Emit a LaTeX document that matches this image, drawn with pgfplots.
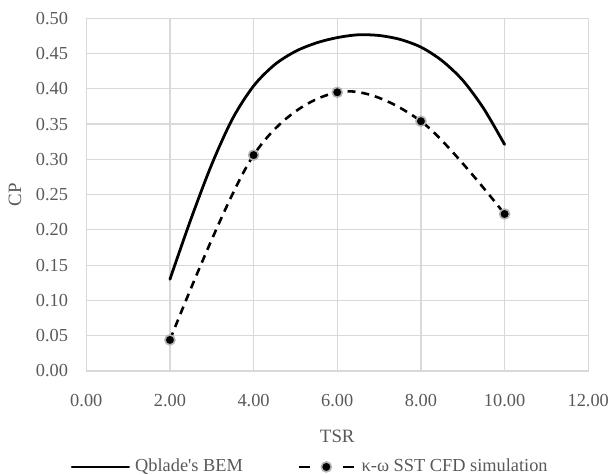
\documentclass[border=0pt]{standalone}
\usepackage{fontspec}
\setmainfont{Liberation Serif}
\usepackage{pgfplots}
\pgfplotsset{compat=1.18}
\definecolor{gridgray}{HTML}{D9D9D9}
\definecolor{txtgray}{HTML}{595959}
\pgfplotsset{
  bem legend/.style={legend image code/.code={%
    \draw[##1] (0bp,0bp) -- (57bp,0bp); \path (62bp,0bp);}},
  cfd legend/.style={legend image code/.code={%
    \draw[##1, solid] (0bp,0bp) -- (11bp,0bp);
    \draw[##1, solid] (44bp,0bp) -- (55bp,0bp);
    \draw[##1] plot coordinates {(27.5bp,0bp)};
    \path (61.7bp,0bp);}},
}
\begin{document}
\fontsize{18.5}{22}\selectfont
\begin{tikzpicture}
\begin{axis}[
  at={(0,0)}, anchor=south west,
  scale only axis, width=504.3bp, height=354.4bp,
  xmin=0, xmax=12, ymin=0, ymax=0.5,
  xtick={0,2,4,6,8,10,12},
  ytick={0,0.05,0.1,0.15,0.2,0.25,0.3,0.35,0.4,0.45,0.5},
  major tick length=0pt,
  grid=major,
  major grid style={gridgray, line width=1.2bp},
  axis line style={gridgray, line width=1.2bp},
  tick label style={txtgray, font=\fontsize{18.5}{22}\selectfont},
  /pgf/number format/fixed,
  /pgf/number format/fixed zerofill,
  /pgf/number format/precision=2,
  /pgf/number format/assume math mode=true,
  yticklabel style={xshift=-12bp},
  xticklabel style={yshift=-16.7bp},
  xlabel={TSR}, ylabel={CP},
  label style={txtgray, font=\fontsize{19}{22}\selectfont},
  xlabel style={at={(axis description cs:0.5,-0.186)}, anchor=center},
  ylabel style={at={(axis description cs:-0.1422,0.5)}, anchor=center},
  legend columns=2,
  legend style={draw=none, fill=none, inner sep=0pt, outer sep=0pt,
    at={(axis description cs:-0.0311,-0.272)}, anchor=west,
    text=txtgray, font=\fontsize{18.5}{22}\selectfont,
    nodes={inner sep=0pt},
    /tikz/every even column/.append style={column sep=55bp}},
]
% Qblade BEM curve
\addplot[black, line width=2.8bp, line cap=round, smooth, tension=0.5, bem legend]
  coordinates {(2,0.130) (2.5,0.215) (3,0.293) (3.5,0.358) (4,0.404) (4.5,0.434)
               (5,0.453) (5.5,0.465) (6,0.4725) (6.5,0.4765) (7,0.4755) (7.5,0.470)
               (8,0.459) (8.5,0.440) (9,0.412) (9.5,0.372) (10,0.321)};
\addlegendentry{Qblade\textquotesingle s BEM}
% CFD points
\addplot[black, line width=2.6bp, dash pattern=on 8bp off 6bp, smooth, tension=0.55,
  mark=*, mark size=5bp,
  mark options={solid, fill=black, draw=black!30, line width=1.6bp},
  cfd legend]
  coordinates {(2,0.044) (4,0.306) (6,0.395) (8,0.354) (10,0.2225)};
\addlegendentry{κ-ω SST CFD simulation}
\end{axis}
\path (-86.7bp,-104.3bp) rectangle (528.3bp,372.7bp);
\end{tikzpicture}
\end{document}
